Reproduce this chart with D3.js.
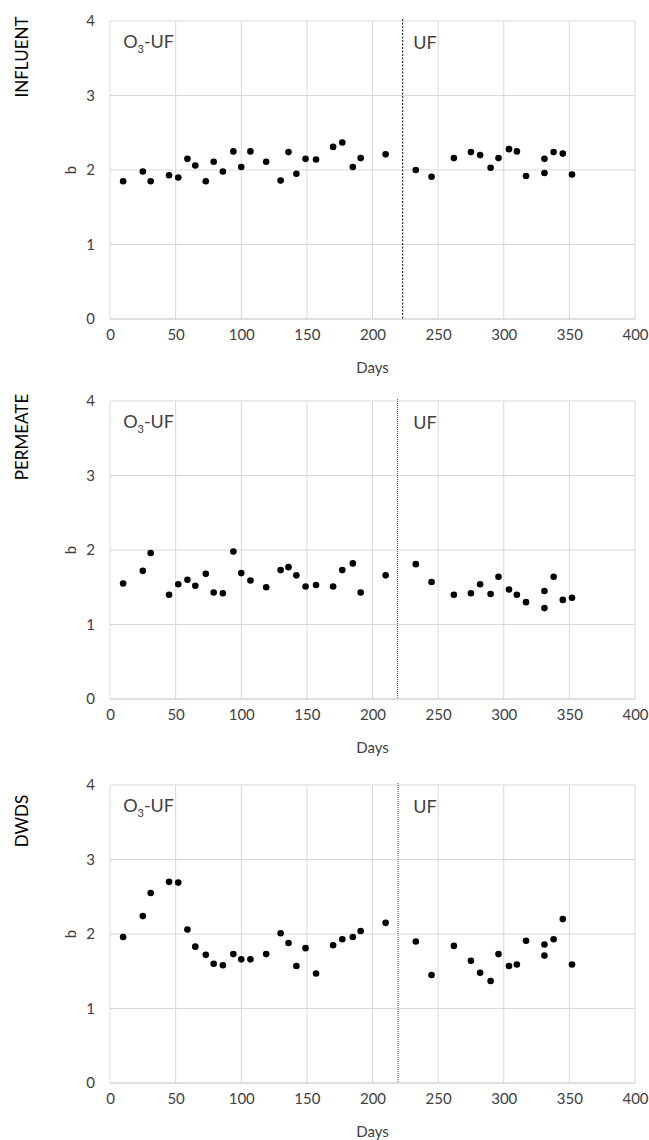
<!DOCTYPE html>
<html>
<head>
<script src="https://cdn.jsdelivr.net/npm/d3@7"></script>
<style>
  body { margin: 0; background: #fff; }
  text { font-family: Lato, "Open Sans", sans-serif; fill: #404040; }
  .grid line { stroke: #d9d9d9; stroke-width: 1; }
  .axis path, .axis line { stroke: none; }
</style>
</head>
<body>
<script>
// sampling days (same for all three panels)
var days = [10, 25, 31, 45, 52, 59, 65, 73, 79, 86, 94, 100, 107, 119, 130, 136, 142, 149, 157,
            170, 177, 185, 191, 210, 233, 245, 262, 275, 282, 290, 296, 304, 310, 317, 331, 331,
            338, 345, 352];

var influent = [1.85, 1.98, 1.85, 1.93, 1.90, 2.15, 2.06, 1.85, 2.11, 1.98, 2.25, 2.04, 2.25, 2.11,
                1.86, 2.24, 1.95, 2.15, 2.14, 2.31, 2.37, 2.04, 2.16, 2.21, 2.00, 1.91, 2.16, 2.24,
                2.20, 2.03, 2.16, 2.28, 2.25, 1.92, 2.15, 1.96, 2.24, 2.22, 1.94];

var permeate = [1.55, 1.72, 1.96, 1.40, 1.54, 1.60, 1.52, 1.68, 1.43, 1.42, 1.98, 1.69, 1.59, 1.50,
                1.73, 1.77, 1.66, 1.51, 1.53, 1.51, 1.73, 1.82, 1.43, 1.66, 1.81, 1.57, 1.40, 1.42,
                1.54, 1.41, 1.64, 1.47, 1.40, 1.30, 1.45, 1.22, 1.64, 1.33, 1.36];

var dwds = [1.96, 2.24, 2.55, 2.70, 2.69, 2.06, 1.83, 1.72, 1.60, 1.58, 1.73, 1.66, 1.66, 1.73,
            2.01, 1.88, 1.57, 1.81, 1.47, 1.85, 1.93, 1.96, 2.04, 2.15, 1.90, 1.45, 1.84, 1.64,
            1.48, 1.37, 1.73, 1.57, 1.59, 1.91, 1.86, 1.71, 1.93, 2.20, 1.59];

var panelNames = ["INFLUENT", "PERMEATE", "DWDS"];
var panelValues = [influent, permeate, dwds];
var switchDay = [223, 219, 219.5];   // change from O3-UF to UF

var xTicks = [0, 50, 100, 150, 200, 250, 300, 350, 400];
var yTicks = [0, 1, 2, 3, 4];

var width = 649, height = 1140;
var left = 110, right = 635;
var tops = [21, 401, 785];
var plotH = 298;

var svg = d3.select("body").append("svg")
    .attr("width", width)
    .attr("height", height);

var x = d3.scaleLinear().domain([0, 400]).range([left, right]);

panelNames.forEach(function(name, i) {
  var y = d3.scaleLinear().domain([0, 4]).range([tops[i] + plotH, tops[i]]);
  var g = svg.append("g");

  // gridlines
  g.append("g").attr("class", "grid")
    .selectAll("line.v").data(xTicks).enter().append("line")
      .attr("x1", function(d) { return x(d); }).attr("x2", function(d) { return x(d); })
      .attr("y1", y(4)).attr("y2", y(0));
  g.append("g").attr("class", "grid")
    .selectAll("line.h").data(yTicks.slice(1)).enter().append("line")
      .attr("x1", x(0)).attr("x2", x(400))
      .attr("y1", function(d) { return y(d); }).attr("y2", function(d) { return y(d); });

  // bottom axis line
  g.append("line")
    .attr("x1", x(0)).attr("x2", x(400))
    .attr("y1", y(0)).attr("y2", y(0))
    .attr("stroke", "#bfbfbf").attr("stroke-width", 1.2);

  var xa = g.append("g").attr("class", "axis")
    .attr("transform", "translate(0," + (y(0) + 10) + ")")
    .call(d3.axisBottom(x).tickValues(xTicks).tickSize(0).tickPadding(0));
  xa.selectAll("text").style("font-size", "15px").attr("dy", "0.71em");

  var ya = g.append("g").attr("class", "axis")
    .attr("transform", "translate(" + (x(0) - 15) + ",0)")
    .call(d3.axisLeft(y).tickValues(yTicks).tickFormat(d3.format("d")).tickSize(0).tickPadding(0));
  ya.selectAll("text").style("font-size", "15px");

  // axis titles
  g.append("text")
    .attr("x", (x(0) + x(400)) / 2).attr("y", y(0) + 54)
    .attr("text-anchor", "middle").style("font-size", "15px")
    .text("Days");
  g.append("text")
    .attr("transform", "translate(76," + y(2) + ") rotate(-90)")
    .attr("text-anchor", "middle").style("font-size", "15px")
    .text("b");
  g.append("text")
    .attr("transform", "translate(28," + (tops[i] + 36) + ") rotate(-90)")
    .attr("text-anchor", "middle").style("font-size", "17px").style("fill", "#000")
    .text(name);

  // switch line
  g.append("line")
    .attr("x1", x(switchDay[i])).attr("x2", x(switchDay[i]))
    .attr("y1", y(4) - 2).attr("y2", y(0))
    .attr("stroke", i === 0 ? "#000" : "#555")
    .attr("stroke-width", 1)
    .attr("stroke-dasharray", i === 0 ? "2,1.5" : "1,1");

  // period labels
  var t = g.append("text")
    .attr("x", x(10)).attr("y", tops[i] + 27)
    .style("font-size", "18px");
  t.append("tspan").text("O");
  t.append("tspan").attr("dy", 5).style("font-size", "11px").text("3");
  t.append("tspan").attr("dy", -5).text("-UF");

  g.append("text")
    .attr("x", x(231)).attr("y", tops[i] + 28)
    .style("font-size", "18px")
    .text("UF");

  // points
  g.selectAll("circle").data(panelValues[i]).enter().append("circle")
    .attr("cx", function(d, j) { return x(days[j]); })
    .attr("cy", function(d) { return y(d); })
    .attr("r", 3.3)
    .attr("fill", "#000");
});
</script>
</body>
</html>
